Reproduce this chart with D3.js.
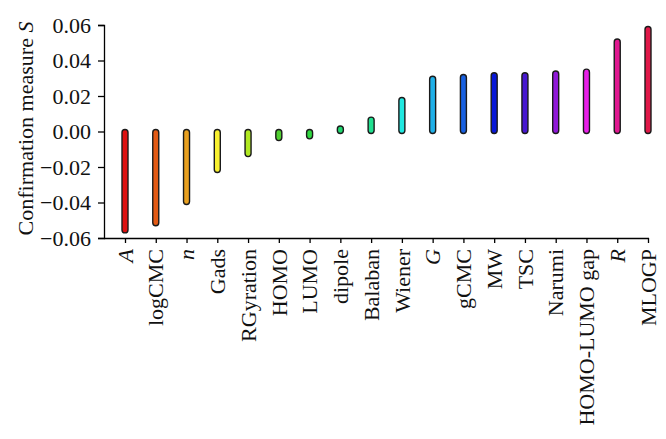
<!DOCTYPE html>
<html>
<head>
<meta charset="utf-8">
<script src="https://cdn.jsdelivr.net/npm/d3@7"></script>
<style>
  body { margin: 0; background: #fff; }
  text { font-family: "Liberation Serif", "DejaVu Serif", serif; }
</style>
</head>
<body>
<div id="chart"></div>
<script>
// Descriptor names, their confirmation measure S and bar colours
const descriptors = ["A", "logCMC", "n", "Gads", "RGyration", "HOMO", "LUMO", "dipole", "Balaban",
  "Wiener", "G", "gCMC", "MW", "TSC", "Narumi", "HOMO-LUMO gap", "R", "MLOGP"];
const italicNames = ["A", "n", "G", "R"];
const values = [-0.056, -0.052, -0.040, -0.022, -0.013, -0.004, -0.003, 0.002, 0.007,
  0.018, 0.030, 0.031, 0.032, 0.032, 0.033, 0.034, 0.051, 0.058];
const colors = ["#dd1010", "#e35a14", "#e8a020", "#f8f030", "#b0e820", "#50d030", "#30d840", "#20d870", "#20e090",
  "#20e8e0", "#20b0e8", "#1860e0", "#0818d8", "#4818d0", "#9018d8", "#e820e8", "#e01890", "#e01848"];
const yTicks = [-0.06, -0.04, -0.02, 0.00, 0.02, 0.04, 0.06];

const data = descriptors.map((d, i) => ({ name: d, value: values[i], color: colors[i] }));

const W = 666, H = 439;
const plotLeft = 104, plotTop = 25, plotBottom = 238, plotRight = 649;
const fontSize = 22;

const svg = d3.select("#chart")
  .append("svg")
  .attr("width", W)
  .attr("height", H);

// scales
const x = d3.scalePoint()
  .domain(descriptors)
  .range([125, 648]);

const y = d3.scaleLinear()
  .domain([-0.06, 0.06])
  .range([plotBottom, plotTop]);

// y axis
const yAxis = svg.append("g")
  .attr("transform", `translate(${plotLeft},0)`)
  .call(d3.axisLeft(y).tickValues(yTicks).tickFormat(d3.format(".2f")).tickSizeOuter(0).tickSize(6).tickPadding(7));
yAxis.select(".domain").attr("stroke", "#000").attr("stroke-width", 1.3);
yAxis.selectAll(".tick line").attr("stroke", "#000").attr("stroke-width", 1.3);
yAxis.selectAll("text")
  .attr("font-size", fontSize)
  .attr("fill", "#111");

// x axis
const xAxis = svg.append("g")
  .attr("transform", `translate(0,${plotBottom})`)
  .call(d3.axisBottom(x).tickSizeOuter(0).tickSize(5).tickFormat(""));
xAxis.select(".domain").attr("d", `M${plotLeft},0.5H${plotRight}`).attr("stroke", "#000").attr("stroke-width", 1.3);
xAxis.selectAll(".tick line").attr("stroke", "#000").attr("stroke-width", 1.3);

// rotated category labels
svg.append("g")
  .selectAll("text")
  .data(data)
  .enter()
  .append("text")
  .attr("transform", d => `translate(${x(d.name)},${plotBottom + 11}) rotate(-90)`)
  .attr("dy", "0.35em")
  .attr("text-anchor", "end")
  .attr("font-size", fontSize)
  .attr("font-style", d => italicNames.includes(d.name) ? "italic" : "normal")
  .attr("fill", "#111")
  .text(d => d.name);

// y axis title
const title = svg.append("text")
  .attr("transform", `translate(33,${(plotTop + plotBottom) / 2 - 3}) rotate(-90)`)
  .attr("text-anchor", "middle")
  .attr("font-size", fontSize)
  .attr("fill", "#111");
title.append("tspan").text("Confirmation measure ");
title.append("tspan").attr("font-style", "italic").text("S");

// bars: thin rounded sticks from zero to value
const barW = 6, cap = 2;
svg.append("g")
  .selectAll("rect")
  .data(data)
  .enter()
  .append("rect")
  .attr("x", d => x(d.name) - barW / 2)
  .attr("y", d => y(Math.max(d.value, 0)) - cap)
  .attr("width", barW)
  .attr("height", d => Math.abs(y(d.value) - y(0)) + 2 * cap)
  .attr("rx", barW / 2)
  .attr("ry", barW / 2)
  .attr("fill", d => d.color)
  .attr("stroke", "#1a1a1a")
  .attr("stroke-width", 1.4);
</script>
</body>
</html>
